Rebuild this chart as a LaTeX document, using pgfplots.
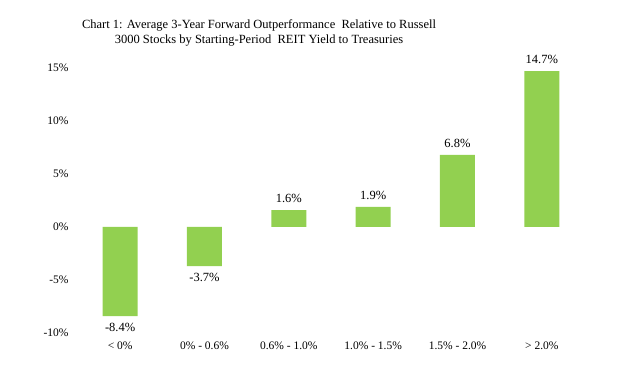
\documentclass[border=0pt]{standalone}
\usepackage{pgfplots}
\pgfplotsset{compat=1.18}
\usepackage{fontspec}
\setmainfont{Liberation Serif}
\definecolor{barg}{HTML}{92D050}
\begin{document}
\begin{tikzpicture}
\path[use as bounding box] (0,0) rectangle (635pt,366pt);
\node[align=center, font=\fontsize{12.5}{15}\selectfont] at (259pt,333pt)
  {Chart 1: Average 3-Year Forward Outperformance\ \ Relative to Russell\\3000 Stocks by Starting-Period\ \ REIT Yield to Treasuries};
\begin{axis}[
  at={(78pt,33pt)}, anchor=south west,
  scale only axis, width=506pt, height=265pt,
  ybar, bar width=35pt,
  xmin=-0.5, xmax=5.5, ymin=-10, ymax=15,
  xtick=data,
  xticklabels={{< 0\%},{0\% - 0.6\%},{0.6\% - 1.0\%},{1.0\% - 1.5\%},{1.5\% - 2.0\%},{> 2.0\%}},
  ytick={-10,-5,0,5,10,15},
  yticklabels={-10\%,-5\%,0\%,5\%,10\%,15\%},
  axis line style={draw=none},
  major tick length=0pt,
  tick label style={font=\fontsize{11.5}{13}\selectfont},
  xticklabel style={yshift=-5pt},
  yticklabel style={xshift=-6pt},
  point meta=y,
  nodes near coords={\pgfmathprintnumber[fixed,fixed zerofill,precision=1,assume math mode=true]{\pgfplotspointmeta}\%},
  nodes near coords align={vertical},
  every node near coord/.append style={font=\fontsize{12.5}{14}\selectfont, inner ysep=7pt},
]
\addplot[fill=barg, draw=none] coordinates {
(0,-8.4)
(1,-3.7)
(2,1.6)
(3,1.9)
(4,6.8)
(5,14.7)
};
\end{axis}
\end{tikzpicture}
\end{document}
